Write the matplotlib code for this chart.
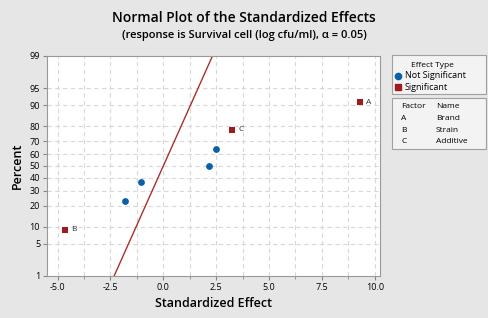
from statistics import NormalDist

import matplotlib.pyplot as plt
import numpy as np

# effects
effect_labels = ["B", "", "", "", "", "C", "A"]
effect_values = [-4.65, -1.8, -1.05, 2.15, 2.5, 3.25, 9.3]
effect_percent = [8.8, 23.2, 36.8, 50.0, 64.0, 77.8, 91.2]
significant = [True, False, False, False, False, True, True]

ref_sigma = 1.0
y_ticks = [1, 5, 10, 20, 30, 40, 50, 60, 70, 80, 90, 95, 99]
x_ticks = [-5.0, -2.5, 0.0, 2.5, 5.0, 7.5, 10.0]

factor_codes = ["A", "B", "C"]
factor_names = ["Brand", "Strain", "Additive"]

BLUE = "#0b5fa5"
RED = "#a01c1c"
BG = "#e6e6e6"

nd = NormalDist()


def z(p):
    return nd.inv_cdf(p / 100.0)


plt.rcParams["font.family"] = ["Open Sans", "DejaVu Sans"]

fig = plt.figure(figsize=(4.88, 3.18), dpi=100, facecolor=BG)
ax = fig.add_axes([0.0963, 0.1321, 0.6824, 0.6918])
ax.set_facecolor("white")

zmin, zmax = z(1), z(99)
ax.set_ylim(zmin, zmax)
ax.set_xlim(-5.5, 10.25)

# grid
for xv in np.arange(-5.0, 10.01, 1.25):
    ax.axvline(xv, color="#d8d8d8", lw=0.8, ls=(0, (4, 3)), zorder=0)
for p in y_ticks[1:-1]:
    ax.axhline(z(p), color="#d8d8d8", lw=0.8, ls=(0, (4, 3)), zorder=0)

# reference line
xs = np.array([-3.0, 3.0])
ax.plot(xs, xs / ref_sigma, color="#a83030", lw=1.0, zorder=2)

for xv, pv, lab, sig in zip(effect_values, effect_percent, effect_labels, significant):
    if sig:
        ax.scatter(xv, z(pv), marker="s", s=22, color=RED, zorder=3, lw=0)
    else:
        ax.scatter(xv, z(pv), marker="o", s=24, color=BLUE, zorder=3, lw=0)
    if lab:
        ax.text(xv + 0.3, z(pv), lab, fontsize=6, color="#333333", va="center")

ax.set_yticks([z(p) for p in y_ticks])
ax.set_yticklabels([str(p) for p in y_ticks])
ax.set_xticks(x_ticks)
ax.set_xticklabels([f"{v:.1f}" for v in x_ticks])
ax.set_xticks(np.arange(-3.75, 10.0, 2.5), minor=True)
ax.tick_params(axis="both", labelsize=6.5, color="#888888", length=3, width=0.8, pad=2)
ax.tick_params(axis="x", which="minor", color="#888888", length=2)
for s in ax.spines.values():
    s.set_color("#999999")
    s.set_linewidth(0.8)

ax.set_xlabel("Standardized Effect", fontsize=9, labelpad=4, fontweight="semibold")
ax.set_ylabel("Percent", fontsize=9, labelpad=4, fontweight="semibold")

fig.text(0.5, 1 - 18 / 318, "Normal Plot of the Standardized Effects", ha="center", va="center",
         fontsize=10, fontweight="semibold")
fig.text(0.5, 1 - 35.5 / 318, "(response is Survival cell (log cfu/ml), \u03b1 = 0.05)", ha="center",
         va="center", fontsize=8, fontweight="semibold")

# legend boxes
W, H = 488.0, 318.0


def box(x0, y0, x1, y1):
    r = plt.Rectangle((x0 / W, 1 - y1 / H), (x1 - x0) / W, (y1 - y0) / H,
                      transform=fig.transFigure, facecolor="#f3f3f3",
                      edgecolor="#a0a0a0", lw=0.8)
    fig.add_artist(r)


box(392, 55, 486, 94)
box(392, 98, 486, 149)

fig.text(432 / W, 1 - 65 / H, "Effect Type", fontsize=6, ha="center", va="center")
fig.text(405 / W, 1 - 75.5 / H, "Not Significant", fontsize=6.5, va="center")
fig.text(405 / W, 1 - 87 / H, "Significant", fontsize=6.5, va="center")
fig.add_artist(plt.Line2D([398 / W], [1 - 75.5 / H], marker="o", ms=4.5, color=BLUE,
                          lw=0, transform=fig.transFigure))
fig.add_artist(plt.Line2D([398 / W], [1 - 87 / H], marker="s", ms=4, color=RED,
                          lw=0, transform=fig.transFigure))

fig.text(401 / W, 1 - 107 / H, "Factor", fontsize=6, va="center")
fig.text(436 / W, 1 - 107 / H, "Name", fontsize=6, va="center")
for i, (c, n) in enumerate(zip(factor_codes, factor_names)):
    yy = 118.5 + i * 11.5
    fig.text(401 / W, 1 - yy / H, c, fontsize=6, va="center")
    fig.text(436 / W, 1 - yy / H, n, fontsize=6, va="center")

fig.savefig("out.png", dpi=100, facecolor=BG)
